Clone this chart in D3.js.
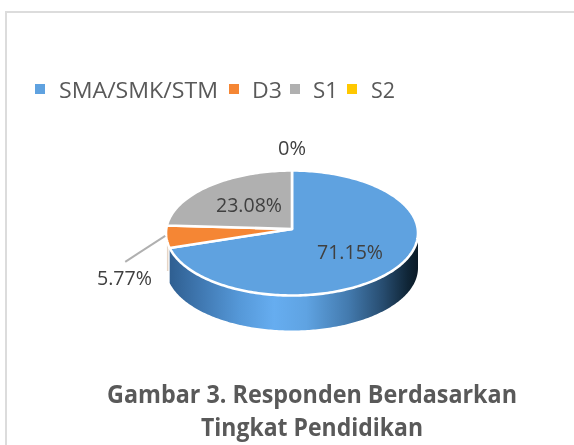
<!DOCTYPE html>
<html><head><meta charset="utf-8">
<script src="https://cdn.jsdelivr.net/npm/d3@7"></script>
<style>html,body{margin:0;padding:0;background:#fff;overflow:hidden}svg{display:block;filter:blur(.35px)}text{font-family:"Open Sans",sans-serif}</style>
</head><body><svg id="c" width="574" height="445"></svg>
<script>
const categories = ["SMA/SMK/STM","D3","S1","S2"];
const values = [71.15,5.77,23.08,0];
const labels = ["71.15%","5.77%","23.08%","0%"];
const colors = ["#5fa2e0","#f58634","#b0b0b0","#ffc800"];
const titleLines = ["Gambar 3. Responden Berdasarkan","Tingkat Pendidikan"];

const svg = d3.select("#c");
const W=574,H=445;
svg.append("rect").attr("x",6).attr("y",12).attr("width",W+20).attr("height",H+20)
  .attr("fill","#fff").attr("stroke","#dcdcdc").attr("stroke-width",2);

const cx=292, cy=233, rx=126, ry=62.5, depth=35, apexY=229;
const pie=d3.pie().value(d=>d).sort(null)(values);
const px=a=>cx+rx*Math.sin(a), py=a=>cy-ry*Math.cos(a);
function slicePath(s){
  const n=Math.max(2,Math.ceil((s.endAngle-s.startAngle)/0.02));
  const t=d3.scaleLinear().domain([0,n]).range([s.startAngle,s.endAngle]);
  const p=d3.path(); p.moveTo(cx,apexY);
  d3.range(n+1).forEach(i=>p.lineTo(px(t(i)),py(t(i))));
  p.closePath(); return p.toString();
}
const defs=svg.append("defs");
const g=defs.append("linearGradient").attr("id","wall");
[[0,"#2f5f91"],[.12,"#3f77b0"],[.28,"#5598d8"],[.42,"#66adf0"],[.55,"#5fa3e2"],[.72,"#437aae"],[.86,"#274c6f"],[.96,"#0f2536"],[1,"#0b1a26"]]
 .forEach(d=>g.append("stop").attr("offset",d[0]).attr("stop-color",d[1]));
const wallAngles=d3.scaleLinear().domain([0,180]).range([Math.PI/2,pie[0].endAngle]);
const wall=d3.path();
d3.range(181).forEach(i=>{const a=wallAngles(i);i?wall.lineTo(px(a),py(a)):wall.moveTo(px(a),py(a));});
d3.range(180,-1,-1).forEach(i=>{const a=wallAngles(i);wall.lineTo(px(a),py(a)+depth);});
wall.closePath();
svg.append("path").attr("d",wall.toString()).attr("fill","url(#wall)");

// thin sliver of the D3 slice's side wall
const sliverX=px(pie[0].endAngle)-2;
svg.append("line").attr("x1",sliverX).attr("x2",sliverX)
  .attr("y1",py(pie[0].endAngle)-4).attr("y2",py(pie[0].endAngle)+depth-12)
  .attr("stroke","#e6d5c6").attr("stroke-width",1.5);

svg.selectAll("path.s").data(pie.filter(d=>d.data>0)).join("path").attr("class","s")
  .attr("d",slicePath).attr("fill",d=>colors[d.index])
  .attr("stroke","#fff").attr("stroke-width",2.6).attr("stroke-linejoin","round");

const mid=(pie[1].startAngle+pie[1].endAngle)/2;
svg.append("path").attr("d",d3.line()([[px(mid)-1,py(mid)-1],[px(mid)-41,py(mid)+25]]))
  .attr("fill","none").attr("stroke","#b0b0b0").attr("stroke-width",2);

const lab=svg.selectAll("text.l").data([[350,259,66],[124.5,285,55],[249,212,66],[292,155,28]]).join("text").attr("class","l")
  .attr("x",d=>d[0]).attr("y",d=>d[1]).attr("text-anchor","middle").attr("font-size",19.5)
  .attr("textLength",d=>d[2]).attr("lengthAdjust","spacingAndGlyphs")
  .attr("fill","#404040").text((d,i)=>labels[i]);

const legendX=[35,210+19,290,347], textX=[59,252,313,371], textW=[159,30,25,24];
const lg=svg.selectAll("g.lg").data(categories).join("g").attr("class","lg");
lg.append("rect").attr("x",(d,i)=>legendX[i]).attr("y",84).attr("width",10).attr("height",10).attr("fill",(d,i)=>colors[i]);
lg.append("text").attr("x",(d,i)=>textX[i]).attr("y",98).attr("font-size",22.5).attr("fill","#595959")
  .attr("textLength",(d,i)=>textW[i]).attr("lengthAdjust","spacingAndGlyphs").text(d=>d);

svg.selectAll("text.t").data(titleLines).join("text").attr("class","t")
  .attr("x",312).attr("y",(d,i)=>403+i*33).attr("text-anchor","middle")
  .attr("font-size",25).attr("font-weight",700).attr("fill","#595959")
  .attr("textLength",(d,i)=>[410,222][i]).attr("lengthAdjust","spacingAndGlyphs").text(d=>d);
</script></body></html>
